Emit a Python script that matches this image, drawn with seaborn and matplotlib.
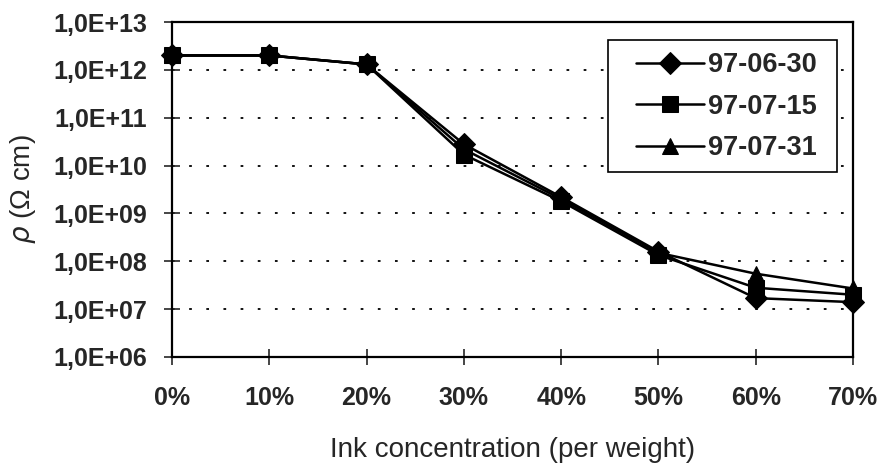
import numpy as np
import pandas as pd
import matplotlib
matplotlib.use("Agg")
import matplotlib.pyplot as plt
import matplotlib.patches as mpatches
import seaborn as sns
from matplotlib.ticker import FixedLocator, FixedFormatter, NullLocator

# Ink concentration categories and resistivity (ohm cm) per measurement date
concentration = ["0%", "10%", "20%", "30%", "40%", "50%", "60%", "70%"]
rho_970630 = [2.0e12, 2.0e12, 1.3e12, 2.8e10, 2.2e9, 1.6e8, 1.7e7, 1.4e7]
rho_970715 = [2.0e12, 2.0e12, 1.3e12, 1.7e10, 1.8e9, 1.35e8, 2.8e7, 2.0e7]
rho_970731 = [2.0e12, 2.0e12, 1.3e12, 2.2e10, 2.0e9, 1.5e8, 5.5e7, 2.7e7]
series_names = ["97-06-30", "97-07-15", "97-07-31"]
y_tick_values = [1e6, 1e7, 1e8, 1e9, 1e10, 1e11, 1e12, 1e13]
y_tick_labels = ["1,0E+06", "1,0E+07", "1,0E+08", "1,0E+09",
                 "1,0E+10", "1,0E+11", "1,0E+12", "1,0E+13"]

df = pd.DataFrame({
    "conc": concentration * 3,
    "rho": rho_970630 + rho_970715 + rho_970731,
    "series": [n for n in series_names for _ in concentration],
})

sns.set_style("white")
plt.rcParams["font.family"] = ["Liberation Sans", "DejaVu Sans"]

W, H = 881, 465
fig = plt.figure(figsize=(W / 100, H / 100), dpi=100)
ax = fig.add_axes([172 / W, 1 - 357 / H, (853 - 172) / W, (357 - 22) / H])

sns.lineplot(data=df, x="conc", y="rho", style="series",
             markers={"97-06-30": "D", "97-07-15": "s", "97-07-31": "^"},
             dashes=False, color="black", sort=False, linewidth=1.8,
             markersize=11, markeredgecolor="black", ax=ax, legend=True)
for ln in ax.lines:
    ln.set_clip_on(False)
    ln.set_zorder(3)

ax.set_yscale("log")
ax.set_ylim(1e6, 1e13)
ax.set_xlim(0, len(concentration) - 1)
ax.yaxis.set_major_locator(FixedLocator(y_tick_values))
ax.yaxis.set_major_formatter(FixedFormatter(y_tick_labels))
ax.yaxis.set_minor_locator(NullLocator())

# dotted horizontal grid at each decade
for v in y_tick_values[1:-1]:
    ax.axhline(v, color="black", linestyle=(0, (1.5, 8)), linewidth=1.3, zorder=0)

for sp in ax.spines.values():
    sp.set_visible(True)
    sp.set_color("black")
    sp.set_linewidth(1.6)

ax.tick_params(axis="y", direction="inout", length=12, width=1.2,
               labelsize=18, pad=12, left=True)
ax.tick_params(axis="x", direction="inout", length=12, width=1.2,
               labelsize=18, pad=15, bottom=True)
for t in ax.get_xticklabels() + ax.get_yticklabels():
    t.set_fontweight("bold")

ax.set_xlabel("Ink concentration (per weight)", fontsize=20, labelpad=19)
ax.set_ylabel(r"$\rho$ (Ω cm)", fontsize=20, labelpad=11)

# legend box
box = mpatches.Rectangle((608 / W, 1 - 172 / H), (837 - 608) / W, (172 - 40) / H,
                         transform=fig.transFigure, facecolor="white",
                         edgecolor="black", linewidth=1.2, zorder=4)
ax.add_patch(box)
box.set_clip_on(False)

handles, labels = ax.get_legend_handles_labels()
leg = ax.legend(handles, labels, loc="upper left",
                bbox_to_anchor=(636 / W, 1 - 52 / H),
                bbox_transform=fig.transFigure,
                prop={"size": 19.5, "weight": "bold"}, frameon=False,
                handlelength=2.5, handletextpad=0.15,
                labelspacing=0.58, borderpad=0, borderaxespad=0)
leg.set_zorder(5)

fig.savefig("out.png", dpi=100)
